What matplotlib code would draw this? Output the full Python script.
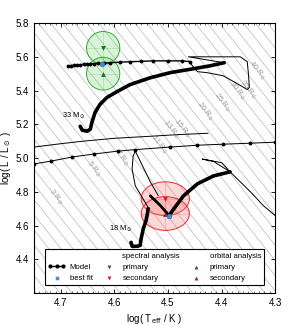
import numpy as np
import matplotlib
matplotlib.use("Agg")
import matplotlib.pyplot as plt
from matplotlib.patches import Ellipse
from matplotlib.lines import Line2D
from matplotlib.ticker import MultipleLocator

plt.rcParams['font.family'] = ['Liberation Sans', 'DejaVu Sans']
plt.rcParams['font.size'] = 7

# ---- 33 Msun track (primary) ----
p_thick_T = [4.664, 4.660, 4.651, 4.645, 4.642, 4.636, 4.627, 4.614, 4.595, 4.571, 4.533, 4.496, 4.453, 4.421, 4.395]
p_thick_L = [5.188, 5.165, 5.159, 5.171, 5.212, 5.271, 5.318, 5.359, 5.394, 5.435, 5.476, 5.506, 5.529, 5.547, 5.565]
p_loop_T = [4.395, 4.462, 4.365, 4.352, 4.350, 4.348, 4.352, 4.374, 4.397, 4.427, 4.445, 4.458]
p_loop_L = [5.565, 5.600, 5.600, 5.571, 5.506, 5.418, 5.406, 5.447, 5.488, 5.506, 5.512, 5.560]
p_strip_T = [4.458, 4.473, 4.500, 4.528, 4.550, 4.571, 4.590, 4.608, 4.620, 4.630, 4.638, 4.645, 4.651, 4.657, 4.664, 4.670, 4.676, 4.681, 4.686]
p_strip_L = [5.571, 5.576, 5.576, 5.576, 5.573, 5.571, 5.568, 5.565, 5.563, 5.561, 5.560, 5.559, 5.557, 5.555, 5.553, 5.551, 5.549, 5.548, 5.547]

# ---- 18 Msun track (secondary) ----
s_ms_T = [4.569, 4.567, 4.557, 4.552, 4.550, 4.546, 4.541, 4.539, 4.537]
s_ms_L = [4.500, 4.477, 4.477, 4.482, 4.524, 4.582, 4.629, 4.659, 4.700]
s_acc_T = [4.537, 4.539, 4.561, 4.567, 4.565, 4.561, 4.533, 4.518]
s_acc_L = [4.700, 4.718, 4.835, 4.935, 5.012, 5.041, 4.859, 4.776]
s_rej_T = [4.533, 4.514, 4.498]
s_rej_L = [4.776, 4.718, 4.659]
s_ms2_T = [4.498, 4.486, 4.471, 4.445, 4.415, 4.384]
s_ms2_L = [4.659, 4.712, 4.776, 4.847, 4.894, 4.918]
s_hook_T = [4.384, 4.399, 4.406, 4.436, 4.415, 4.384]
s_hook_L = [4.918, 4.971, 4.976, 4.994, 4.980, 4.918]
s_down_T = [4.384, 4.346, 4.322, 4.300, 4.290]
s_down_L = [4.918, 4.800, 4.718, 4.659, 4.640]

# ---- other model lines ----
dot_T = [4.760, 4.750, 4.718, 4.679, 4.638, 4.593, 4.561, 4.496, 4.445, 4.397, 4.346, 4.300, 4.290]
dot_L = [4.958, 4.965, 4.982, 5.006, 5.024, 5.041, 5.050, 5.065, 5.076, 5.082, 5.088, 5.094, 5.095]
thin_T = [4.760, 4.750, 4.700, 4.658, 4.600, 4.533, 4.480, 4.425]
thin_L = [5.058, 5.065, 5.085, 5.100, 5.117, 5.129, 5.139, 5.147]

# ---- observations: (logT, logL, err_T, err_L) ----
prim_spec = (4.621, 5.653, 0.031, 0.097)
prim_orb = (4.621, 5.500, 0.031, 0.097)
prim_fit = (4.623, 5.559)
sec_spec = (4.505, 4.759, 0.045, 0.100)
sec_orb = (4.505, 4.671, 0.045, 0.100)
sec_fit = (4.498, 4.659)

# ---- constant radius lines ----
logTsun = 3.7617
R_labels = [3, 5, 7, 11, 13, 15, 20, 25, 30, 35, 40]
R_label_T = [4.709, 4.638, 4.587, 4.516, 4.494, 4.473, 4.430, 4.399, 4.372, 4.350, 4.333]
logR_grid = np.arange(-0.5, 2.3, 0.045)

fig = plt.figure(figsize=(2.99, 3.25), dpi=100)
ax = fig.add_axes([0.114, 0.0985, 0.806, 0.8305])
ax.set_xlim(4.75, 4.3)
ax.set_ylim(4.2, 5.8)

Tg = np.array([4.2, 4.9])
for lr in logR_grid:
    ax.plot(Tg, 2 * lr + 4 * (Tg - logTsun), color='#b8b8b8', lw=0.5, zorder=1)

p0 = ax.transData.transform((4.6, 5.0))
p1 = ax.transData.transform((4.5, 5.0 - 0.4))
ang = np.degrees(np.arctan2(p1[1] - p0[1], p1[0] - p0[0]))
for R, T in zip(R_labels, R_label_T):
    lr = logR_grid[np.argmin(np.abs(logR_grid - np.log10(R)))]
    ax.text(T, 2 * lr + 4 * (T - logTsun), r'%d R$_\odot$' % R, color='#9a9a9a',
            fontsize=5.3, rotation=ang, ha='center', va='center', zorder=2,
            rotation_mode='anchor')

# error ellipses
def err_ell(obs, fc, ec):
    T, L, eT, eL = obs
    ax.add_patch(Ellipse((T, L), 2 * eT, 2 * eL, facecolor=fc, edgecolor=ec, lw=0.7, zorder=3))
    ax.plot([T - eT, T + eT], [L, L], color=ec, lw=0.4, alpha=0.35, zorder=3)
    ax.plot([T, T], [L - eL, L + eL], color=ec, lw=0.4, alpha=0.35, zorder=3)

err_ell(prim_spec, (0.45, 0.85, 0.45, 0.28), '#33aa33')
err_ell(prim_orb, (0.45, 0.85, 0.45, 0.28), '#33aa33')
err_ell(sec_spec, (0.98, 0.45, 0.45, 0.28), '#ee2a2a')
err_ell(sec_orb, (0.98, 0.45, 0.45, 0.28), '#ee2a2a')

# model tracks
k = dict(color='black', zorder=4, solid_capstyle='round')
ax.plot(p_thick_T, p_thick_L, lw=2.6, **k)
ax.plot(p_loop_T, p_loop_L, lw=0.7, **k)
ax.plot(p_strip_T, p_strip_L, lw=1.0, marker='o', ms=1.8, **k)
ax.plot(s_ms_T, s_ms_L, lw=2.6, **k)
ax.plot(s_acc_T, s_acc_L, lw=0.7, **k)
ax.plot(s_rej_T, s_rej_L, lw=2.0, **k)
ax.plot(s_ms2_T, s_ms2_L, lw=2.6, **k)
ax.plot(s_hook_T, s_hook_L, lw=0.7, **k)
ax.plot(s_down_T, s_down_L, lw=0.7, **k)
ax.plot(dot_T, dot_L, lw=0.7, marker='o', ms=1.8, **k)
ax.plot(thin_T, thin_L, lw=0.7, **k)

ax.text(4.677, 5.247, r'33 M$_\odot$', fontsize=5.3, ha='center', va='center')
ax.text(4.589, 4.582, r'18 M$_\odot$', fontsize=5.3, ha='center', va='center')

# markers
ax.scatter(prim_spec[0], prim_spec[1], marker='v', s=12, color='#1e6b1e', zorder=6, lw=0)
ax.scatter(prim_orb[0], prim_orb[1], marker='^', s=12, color='#1e6b1e', zorder=6, lw=0)
ax.scatter(sec_spec[0], sec_spec[1], marker='v', s=12, color='#d42020', zorder=6, lw=0)
ax.scatter(sec_orb[0], sec_orb[1], marker='^', s=12, color='#9c2a1c', zorder=6, lw=0)
ax.scatter([prim_fit[0], sec_fit[0]], [prim_fit[1], sec_fit[1]], marker='o', s=12,
           color='#3d8fd6', edgecolor='#2a6fb0', lw=0.4, zorder=7)

# legend
blank = Line2D([], [], linestyle='none', marker='none')
h_model = Line2D([], [], color='black', lw=1.0, marker='o', ms=2)
h_fit = ax.scatter([], [], marker='o', s=8, color='#3d8fd6', lw=0)
h_sp = ax.scatter([], [], marker='v', s=8, color='#1e6b1e', lw=0)
h_ss = ax.scatter([], [], marker='v', s=8, color='#d42020', lw=0)
h_op = ax.scatter([], [], marker='^', s=8, color='#1e6b1e', lw=0)
h_os = ax.scatter([], [], marker='^', s=8, color='#9c2a1c', lw=0)
handles = [blank, h_model, h_fit, blank, h_sp, h_ss, blank, h_op, h_os]
labels = ['', 'Model', 'best fit', 'spectral analysis', 'primary', 'secondary',
          'orbital analysis', 'primary', 'secondary']
leg = ax.legend(handles, labels, ncol=3, loc='lower center', bbox_to_anchor=(0.5, 0.015),
                fontsize=5.6, frameon=True, fancybox=False, edgecolor='black',
                framealpha=1, numpoints=3, scatterpoints=1, handlelength=2.2,
                handletextpad=0.6, columnspacing=1.0, labelspacing=0.45, borderpad=0.4)
leg.get_frame().set_linewidth(0.8)
leg.set_zorder(10)

ax.set_xticks([4.7, 4.6, 4.5, 4.4, 4.3])
ax.set_yticks([4.4, 4.6, 4.8, 5.0, 5.2, 5.4, 5.6, 5.8])
ax.xaxis.set_minor_locator(MultipleLocator(0.01))
ax.tick_params(which='both', direction='in', top=True, right=True, labelsize=7)
ax.tick_params(which='major', length=3, width=0.6)
ax.tick_params(which='minor', length=1.5, width=0.4)
for s in ax.spines.values():
    s.set_linewidth(0.8)
ax.set_xlabel(r'log( T$_{\rm eff}$ / K )', fontsize=7, labelpad=3)
ax.set_ylabel(r'log( L / L$_\odot$ )', fontsize=7, labelpad=2)

fig.savefig('out.png', dpi=100)
